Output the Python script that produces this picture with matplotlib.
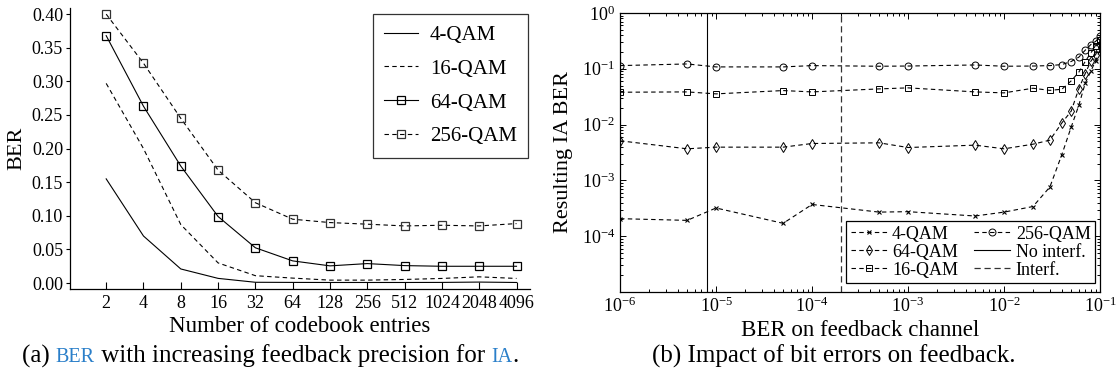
import math
import matplotlib
matplotlib.use("Agg")
import matplotlib.pyplot as plt
from matplotlib.offsetbox import TextArea, HPacker, AnnotationBbox
from matplotlib.ticker import FixedLocator, FuncFormatter, LogLocator, NullFormatter

# ---- data: BER vs. codebook size ----
codebook_labels = ["2", "4", "8", "16", "32", "64", "128", "256", "512", "1024", "2048", "4096"]
ber_4qam = [0.155, 0.070, 0.021, 0.007, 0.0012, 0.0010, 0.0009, 0.0009, 0.0009, 0.0010, 0.0015, 0.0009]
ber_16qam = [0.297, 0.200, 0.087, 0.030, 0.0110, 0.0074, 0.0044, 0.0044, 0.0054, 0.0069, 0.0093, 0.0069]
ber_64qam = [0.368, 0.263, 0.174, 0.099, 0.0525, 0.033, 0.0256, 0.029, 0.026, 0.025, 0.025, 0.025]
ber_256qam = [0.400, 0.327, 0.245, 0.168, 0.1195, 0.095, 0.090, 0.0876, 0.085, 0.086, 0.085, 0.0885]

# ---- data: IA BER vs. feedback channel BER ----
fb_ber = [1e-6, 5e-6, 1e-5, 5e-5, 1e-4, 5e-4, 1e-3, 5e-3, 1e-2,
          2e-2, 3e-2, 4e-2, 5e-2, 6e-2, 7e-2, 8e-2, 9e-2, 1e-1]
ia_4qam = [2.06e-4, 1.92e-4, 3.2e-4, 1.7e-4, 3.7e-4, 2.7e-4, 2.75e-4, 2.3e-4, 2.7e-4,
           3.4e-4, 7.6e-4, 2.9e-3, 9.0e-3, 2.2e-2, 5.5e-2, 9.0e-2, 1.4e-1, 2.2e-1]
ia_16qam = [0.038, 0.0385, 0.0355, 0.0407, 0.0385, 0.0436, 0.0455, 0.0385, 0.037,
            0.0448, 0.041, 0.043, 0.0607, 0.0867, 0.135, 0.192, 0.253, 0.333]
ia_64qam = [0.00512, 0.00368, 0.00394, 0.00394, 0.00458, 0.00471, 0.00388, 0.00428, 0.00368,
            0.00445, 0.00526, 0.0107, 0.0174, 0.0436, 0.082, 0.136, 0.18, 0.27]
ia_256qam = [0.114, 0.122, 0.108, 0.108, 0.114, 0.111, 0.112, 0.117, 0.111,
             0.112, 0.114, 0.119, 0.135, 0.161, 0.215, 0.271, 0.31, 0.38]
no_interf_ber = 8e-6
interf_ber = 2e-4

SERIF = ["Liberation Serif", "DejaVu Serif"]
plt.rcParams["font.family"] = SERIF
plt.rcParams["mathtext.fontset"] = "custom"
plt.rcParams["mathtext.rm"] = "Liberation Serif"
plt.rcParams["mathtext.it"] = "Liberation Serif:italic"
plt.rcParams["mathtext.bf"] = "Liberation Serif:bold"

DASH = (0, (4, 3))
LW = 0.8

fig = plt.figure(figsize=(11.2, 3.85), dpi=100)

# ================= left panel =================
ax1 = fig.add_axes([0.0625, 0.249, 0.411, 0.730])
xpos = list(range(len(codebook_labels)))
ax1.plot(xpos, ber_4qam, color="k", lw=LW, label="4-QAM")
ax1.plot(xpos, ber_16qam, color="k", lw=LW, ls=DASH, label="16-QAM")
ax1.plot(xpos, ber_64qam, color="k", lw=LW, marker="s", ms=5.5, mfc="none",
         mec="k", mew=0.9, label="64-QAM")
ax1.plot(xpos, ber_256qam, color="k", lw=LW, ls=DASH, marker="s", ms=5.5, mfc="none",
         mec="#333333", mew=0.9, label="256-QAM")
ax1.set_xlim(-0.97, 11.37)
ax1.set_ylim(-0.009, 0.409)
ax1.set_xticks(xpos)
ax1.set_xticklabels(codebook_labels)
ax1.set_yticks([i * 0.05 for i in range(9)])
ax1.yaxis.set_major_formatter(FuncFormatter(lambda v, p: f"{v:.2f}"))
for s in ("top", "right"):
    ax1.spines[s].set_visible(False)
for s in ("left", "bottom"):
    ax1.spines[s].set_linewidth(0.9)
ax1.tick_params(axis="x", direction="in", length=5, width=0.8, labelsize=13, pad=4)
ax1.tick_params(axis="y", direction="out", length=3, width=0.8, labelsize=13, pad=2)
ax1.set_ylabel("BER", fontsize=16, labelpad=4)
ax1.set_xlabel("Number of codebook entries", fontsize=16.5, labelpad=3)
leg1 = ax1.legend(loc="upper right", bbox_to_anchor=(0.996, 0.979), borderaxespad=0,
                  fontsize=15, frameon=True, fancybox=False, edgecolor="k",
                  handlelength=1.6, handletextpad=0.6, labelspacing=0.68,
                  borderpad=0.55)
leg1.get_frame().set_linewidth(0.9)

# ================= right panel =================
ax2 = fig.add_axes([0.5536, 0.2416, 0.4286, 0.7247])
ax2.set_xscale("log")
ax2.set_yscale("log")
ax2.plot(fb_ber, ia_4qam, color="k", lw=LW, ls=DASH, marker="x", ms=2.5, mew=0.8,
         label="4-QAM")
ax2.plot(fb_ber, ia_64qam, color="k", lw=LW, ls=DASH, marker="d", ms=5, mfc="none",
         mew=0.7, label="64-QAM")
ax2.plot(fb_ber, ia_16qam, color="k", lw=LW, ls=DASH, marker="s", ms=5, mfc="none",
         mew=0.7, label="16-QAM")
ax2.plot(fb_ber, ia_256qam, color="k", lw=LW, ls=DASH, marker="o", ms=5, mfc="none",
         mew=0.7, label="256-QAM")
ax2.axvline(no_interf_ber, color="k", lw=0.8, label="No interf.")
ax2.axvline(interf_ber, color="#333333", lw=0.9, ls=(0, (5, 3)), label="Interf.")
ax2.set_xlim(1e-6, 1e-1)
ax2.set_ylim(1e-5, 1)
ax2.xaxis.set_major_locator(LogLocator(base=10, numticks=20))
ax2.yaxis.set_major_locator(FixedLocator([1e-5, 1e-4, 1e-3, 1e-2, 1e-1, 1e0]))
ax2.yaxis.set_major_formatter(FuncFormatter(
    lambda v, p: "" if v < 5e-5 else r"$\mathdefault{10^{%d}}$" % round(math.log10(v))))
ax2.xaxis.set_minor_locator(LogLocator(base=10, subs=range(2, 10), numticks=20))
ax2.yaxis.set_minor_locator(LogLocator(base=10, subs=range(2, 10), numticks=20))
ax2.xaxis.set_minor_formatter(NullFormatter())
ax2.yaxis.set_minor_formatter(NullFormatter())
ax2.tick_params(which="both", direction="in", top=True, right=True, width=0.7)
ax2.tick_params(which="major", length=4, labelsize=13)
ax2.tick_params(which="minor", length=2)
for s in ax2.spines.values():
    s.set_linewidth(0.9)
ax2.set_ylabel("Resulting IA BER", fontsize=16, labelpad=6)
ax2.set_xlabel("BER on feedback channel", fontsize=16.5, labelpad=3)
leg2 = ax2.legend(ncol=2, loc="lower right", bbox_to_anchor=(0.99, 0.032), borderaxespad=0,
                  fontsize=13, frameon=True, fancybox=False, edgecolor="k",
                  handlelength=2.0, handletextpad=0.3, labelspacing=0.05,
                  columnspacing=0.9, borderpad=0.25)
leg2.get_frame().set_linewidth(0.9)
leg2.get_frame().set_alpha(1)

# ================= captions =================
BLUE = "#2a7fc9"


def caption(parts, x, y):
    boxes = [TextArea(t, textprops=dict(fontsize=fs, color=c, family=SERIF))
             for t, c, fs in parts]
    pack = HPacker(children=boxes, align="baseline", pad=0, sep=0)
    ab = AnnotationBbox(pack, (x, y), xycoords="figure fraction", frameon=False,
                        box_alignment=(0.5, 0.5))
    fig.add_artist(ab)


caption([("(a) ", "k", 18), ("BER", BLUE, 14.5), (" with increasing feedback precision for ", "k", 18),
         ("IA", BLUE, 14.5), (".", "k", 18)], 270 / 1120, 1 - 356 / 385)
caption([("(b) Impact of bit errors on feedback.", "k", 18)], 834 / 1120, 1 - 356 / 385)

fig.savefig("out.png", dpi=100)
